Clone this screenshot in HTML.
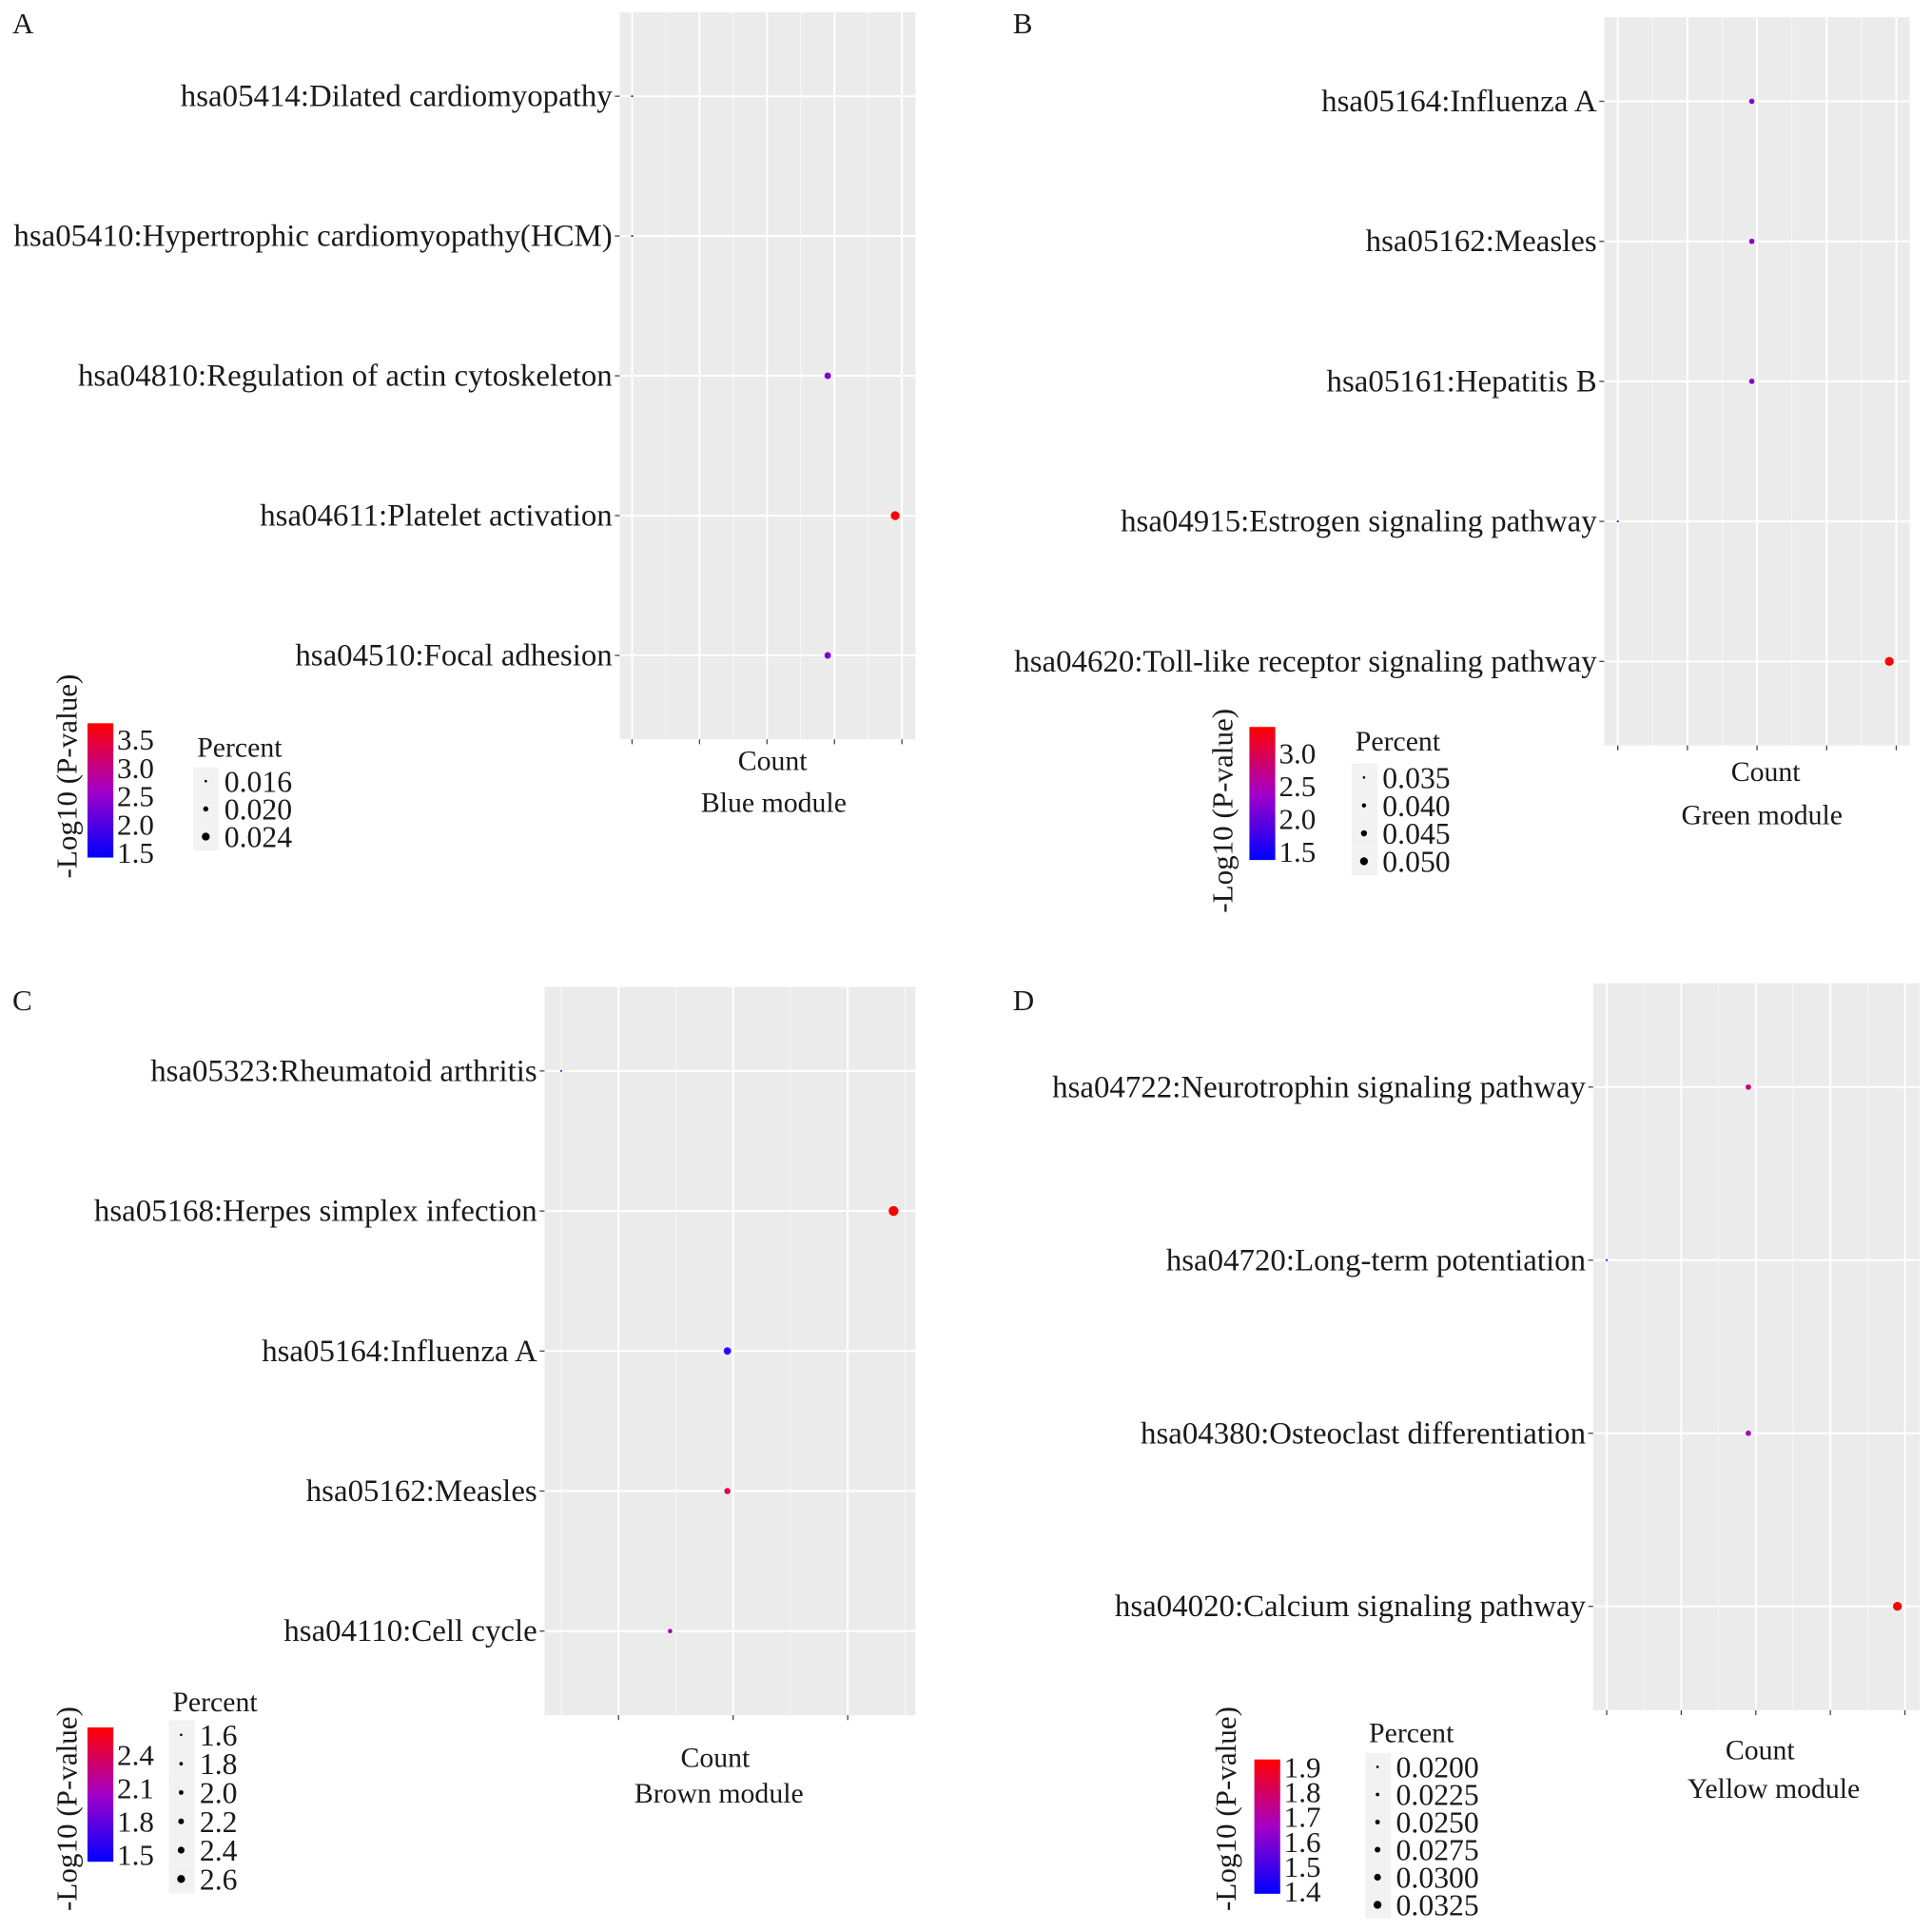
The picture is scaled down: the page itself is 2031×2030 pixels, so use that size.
<!DOCTYPE html>
<html><head><meta charset="utf-8">
<style>
html,body{margin:0;padding:0;background:#fff;}
svg{display:block;}
text{font-family:"Liberation Serif",serif;fill:#1a1a1a;}
</style></head>
<body>
<svg id="fig" width="2031" height="2030" viewBox="0 0 1568 1567.2" xmlns="http://www.w3.org/2000/svg">
<defs>
<linearGradient id="cgrad" x1="0" y1="1" x2="0" y2="0">
<stop offset="0" stop-color="#0000ff"/><stop offset="0.5" stop-color="#a400c8"/><stop offset="1" stop-color="#ff0000"/>
</linearGradient>
</defs>
</svg>
<script>
// Panel A data
const catsA = ["hsa05414:Dilated cardiomyopathy","hsa05410:Hypertrophic cardiomyopathy(HCM)","hsa04810:Regulation of actin cytoskeleton","hsa04611:Platelet activation","hsa04510:Focal adhesion"];
const countA = [2, 2, 7.8, 9.8, 7.8];
const pvalA = [1.5, 1.5, 2.1, 3.7, 2.1];
const pctA = [0.013, 0.013, 0.022, 0.026, 0.022];
const colTicksA = ["3.5","3.0","2.5","2.0","1.5"];
const pctTicksA = ["0.016","0.020","0.024"];
// Panel B data
const catsB = ["hsa05164:Influenza A","hsa05162:Measles","hsa05161:Hepatitis B","hsa04915:Estrogen signaling pathway","hsa04620:Toll-like receptor signaling pathway"];
const countB = [5.85, 5.85, 5.85, 2.0, 9.8];
const pvalB = [2.0, 2.0, 2.0, 1.4, 3.2];
const pctB = [0.042, 0.042, 0.042, 0.032, 0.052];
const colTicksB = ["3.0","2.5","2.0","1.5"];
const pctTicksB = ["0.035","0.040","0.045","0.050"];
// Panel C data
const catsC = ["hsa05323:Rheumatoid arthritis","hsa05168:Herpes simplex infection","hsa05164:Influenza A","hsa05162:Measles","hsa04110:Cell cycle"];
const countC = [2, 7.8, 4.9, 4.9, 3.9];
const pvalC = [1.5, 2.55, 1.45, 2.3, 1.9];
const pctC = [1.4, 2.7, 2.3, 2.1, 1.8];
const colTicksC = ["2.4","2.1","1.8","1.5"];
const pctTicksC = ["1.6","1.8","2.0","2.2","2.4","2.6"];
// Panel D data
const catsD = ["hsa04722:Neurotrophin signaling pathway","hsa04720:Long-term potentiation","hsa04380:Osteoclast differentiation","hsa04020:Calcium signaling pathway"];
const countD = [4.9, 3.0, 4.9, 6.9];
const pvalD = [1.75, 1.4, 1.65, 1.95];
const pctD = [0.026, 0.019, 0.026, 0.033];
const colTicksD = ["1.9","1.8","1.7","1.6","1.5","1.4"];
const pctTicksD = ["0.0200","0.0225","0.0250","0.0275","0.0300","0.0325"];

const svg = document.getElementById('fig');
const NS = "http://www.w3.org/2000/svg";
function mk(tag, attrs, parent){
  const e = document.createElementNS(NS, tag);
  for (const k in attrs) e.setAttribute(k, attrs[k]);
  (parent||svg).appendChild(e);
  return e;
}
function colorFor(t){
  t = Math.max(0, Math.min(1, t));
  const r = Math.round(255*Math.pow(t,0.55));
  const b = Math.round(255*Math.pow(1-t,0.7));
  return `rgb(${r},0,${b})`;
}

function panel(cfg){
  const g = mk('g', {});
  
  
  const lt = mk('text', {x: cfg.letterX, y: cfg.letterY, 'font-size': 24}, g);
  lt.textContent = cfg.letter;
  
  
  const r = cfg.rect;
  const bg = mk('rect', {x: r.x0, y: r.y0, width: r.x1 - r.x0, height: r.y1 - r.y0, fill: '#ebebeb'}, g);
  
  
  const xs = v => cfg.tp0 + (v - cfg.tv0) / (cfg.tv1 - cfg.tv0) * (cfg.tp1 - cfg.tp0);
  const step = (cfg.tp1 - cfg.tp0) / (cfg.nTicks - 1);
  for (let i = -1; i < cfg.nTicks; i++) {
    const x = cfg.tp0 + (i + 0.5) * step;
    if (x < r.x0 || x > r.x1) continue;
    const l = mk('line', {x1: x, x2: x, y1: r.y0, y2: r.y1, stroke: '#f7f7f7', 'stroke-width': 0.8}, g);
    
    
  }
  for (let i = 0; i < cfg.nTicks; i++) {
    const x = cfg.tp0 + i * step;
    const l = mk('line', {x1: x, x2: x, y1: r.y0, y2: r.y1, stroke: '#ffffff', 'stroke-width': 1.5}, g);
    
    
    const tk = mk('line', {x1: x, x2: x, y1: r.y1, y2: r.y1 + 4, stroke: '#444', 'stroke-width': 1}, g);
    
    
  }
  const n = cfg.cats.length;
  const ystep = (r.y1 - r.y0) / (n - 1 + 1.2);
  const ys = i => r.y0 + 0.6 * ystep + i * ystep;
  cfg.cats.forEach((c, i) => {
    const y = ys(i);
    const l = mk('line', {x1: r.x0, x2: r.x1, y1: y, y2: y, stroke: '#ffffff', 'stroke-width': 1.5}, g);
    
    
    const tk = mk('line', {x1: r.x0 - 4, x2: r.x0, y1: y, y2: y, stroke: '#444', 'stroke-width': 1}, g);
    
    
    const t = mk('text', {x: r.x0 - 6, y: y, dy: '0.32em', 'text-anchor': 'end', 'font-size': 25.4}, g);
    t.textContent = c;
    
    
  });
  cfg.cats.forEach((c, i) => {
    const tcol = (cfg.pval[i] - cfg.cmin) / (cfg.cmax - cfg.cmin);
    const ts = (cfg.pct[i] - cfg.smin) / (cfg.smax - cfg.smin);
    const rad = 0.8 + Math.max(0, Math.min(1.2, ts)) * (cfg.rmax - 0.8);
    const p = mk('circle', {cx: xs(cfg.count[i]), cy: ys(i), r: rad, fill: colorFor(tcol)}, g);
    
    
  });
  const xm = (r.x0 + r.x1) / 2;
  const at = mk('text', {x: xm + cfg.cntDx, y: r.y1 + 26 + cfg.titleDy, 'text-anchor': 'middle', 'font-size': 23}, g);
  at.textContent = 'Count';
  
  
  const mt = mk('text', {x: xm + cfg.modDx, y: r.y1 + 59 + cfg.modDy, 'text-anchor': 'middle', 'font-size': 23}, g);
  mt.textContent = cfg.module;
  
  
  const L = cfg.leg;
  const ct = mk('text', {x: 0, y: 0, 'text-anchor': 'middle', 'font-size': 24, transform: `translate(${L.titleX},${L.titleY}) rotate(-90)`}, g);
  ct.textContent = '-Log10 (P-value)';
  
  
  const cb = mk('rect', {x: L.cx, y: L.cy0, width: 21, height: L.cy1 - L.cy0, fill: 'url(#cgrad)'}, g);
  
  
  const ncl = cfg.colTicks.length;
  cfg.colTicks.forEach((lab, i) => {
    const y = L.ct0 + i * (L.ct1 - L.ct0) / (ncl - 1);
    const t = mk('text', {x: L.cx + 24, y: y, dy: '0.35em', 'font-size': 24}, g);
    t.textContent = lab;
    
    
  });
  const pt = mk('text', {x: L.px, y: L.pty, 'font-size': 23}, g);
  pt.textContent = 'Percent';
  
  
  const np = cfg.pctTicks.length;
  const pstep = (L.pk1 - L.pk0) / (np - 1);
  cfg.pctTicks.forEach((lab, i) => {
    const y = L.pk0 + i * pstep;
    const key = mk('rect', {x: L.px - 3, y: y - pstep / 2, width: 21, height: pstep, fill: '#f2f2f2'}, g);
    
    
    const d = mk('circle', {cx: L.px + 7, cy: y, r: 1 + i * (2.2 / (np - 1)), fill: '#000'}, g);
    
    
    const t = mk('text', {x: L.px + 22, y: y, dy: '0.35em', 'font-size': 24.5}, g);
    t.textContent = lab;
    
    
  });
}

panel({name:'panel-a', letter:'A', letterX:10, letterY:27, rect:{x0:503,x1:743,y0:10,y1:600},
  tp0:513, tp1:732, tv0:2, tv1:10, nTicks:5, cats:catsA, count:countA, pval:pvalA, pct:pctA,
  cmin:1.5, cmax:3.7, smin:0.014, smax:0.026, rmax:3.6, module:'Blue module', modDx:5, cntDx:4, titleDy:-1, modDy:0,
  colTicks:colTicksA, pctTicks:pctTicksA,
  leg:{titleX:62, titleY:630, cx:71, cy0:587, cy1:696, ct0:600, ct1:692, px:160, pty:614, pk0:634, pk1:679}});
panel({name:'panel-b', letter:'B', letterX:822, letterY:27, rect:{x0:1302,x1:1550,y0:14,y1:605},
  tp0:1313, tp1:1539, tv0:2, tv1:10, nTicks:5, cats:catsB, count:countB, pval:pvalB, pct:pctB,
  cmin:1.4, cmax:3.2, smin:0.032, smax:0.052, rmax:3.6, module:'Green module', modDx:4, cntDx:7, titleDy:3, modDy:5,
  colTicks:colTicksB, pctTicks:pctTicksB,
  leg:{titleX:1000, titleY:658, cx:1014, cy0:590, cy1:698, ct0:611, ct1:691, px:1100, pty:609, pk0:631, pk1:699}});
panel({name:'panel-c', letter:'C', letterX:10, letterY:820, rect:{x0:442,x1:743,y0:801,y1:1392},
  tp0:502, tp1:688, tv0:3, tv1:7, nTicks:3, cats:catsC, count:countC, pval:pvalC, pct:pctC,
  cmin:1.4, cmax:2.55, smin:1.4, smax:2.7, rmax:4, module:'Brown module', modDx:-9, cntDx:-12, titleDy:16, modDy:12,
  colTicks:colTicksC, pctTicks:pctTicksC,
  leg:{titleX:62, titleY:1468, cx:71, cy0:1402, cy1:1511, ct0:1424, ct1:1505, px:140, pty:1389, pk0:1408, pk1:1525}});
panel({name:'panel-d', letter:'D', letterX:822, letterY:820, rect:{x0:1293,x1:1558,y0:798,y1:1388},
  tp0:1304, tp1:1546, tv0:3, tv1:7, nTicks:5, cats:catsD, count:countD, pval:pvalD, pct:pctD,
  cmin:1.4, cmax:1.95, smin:0.019, smax:0.033, rmax:3.6, module:'Yellow module', modDx:14, cntDx:3, titleDy:14, modDy:12,
  colTicks:colTicksD, pctTicks:pctTicksD,
  leg:{titleX:1003, titleY:1468, cx:1018, cy0:1428, cy1:1537, ct0:1434, ct1:1535, px:1111, pty:1414, pk0:1434, pk1:1546}});
</script>
</body></html>
